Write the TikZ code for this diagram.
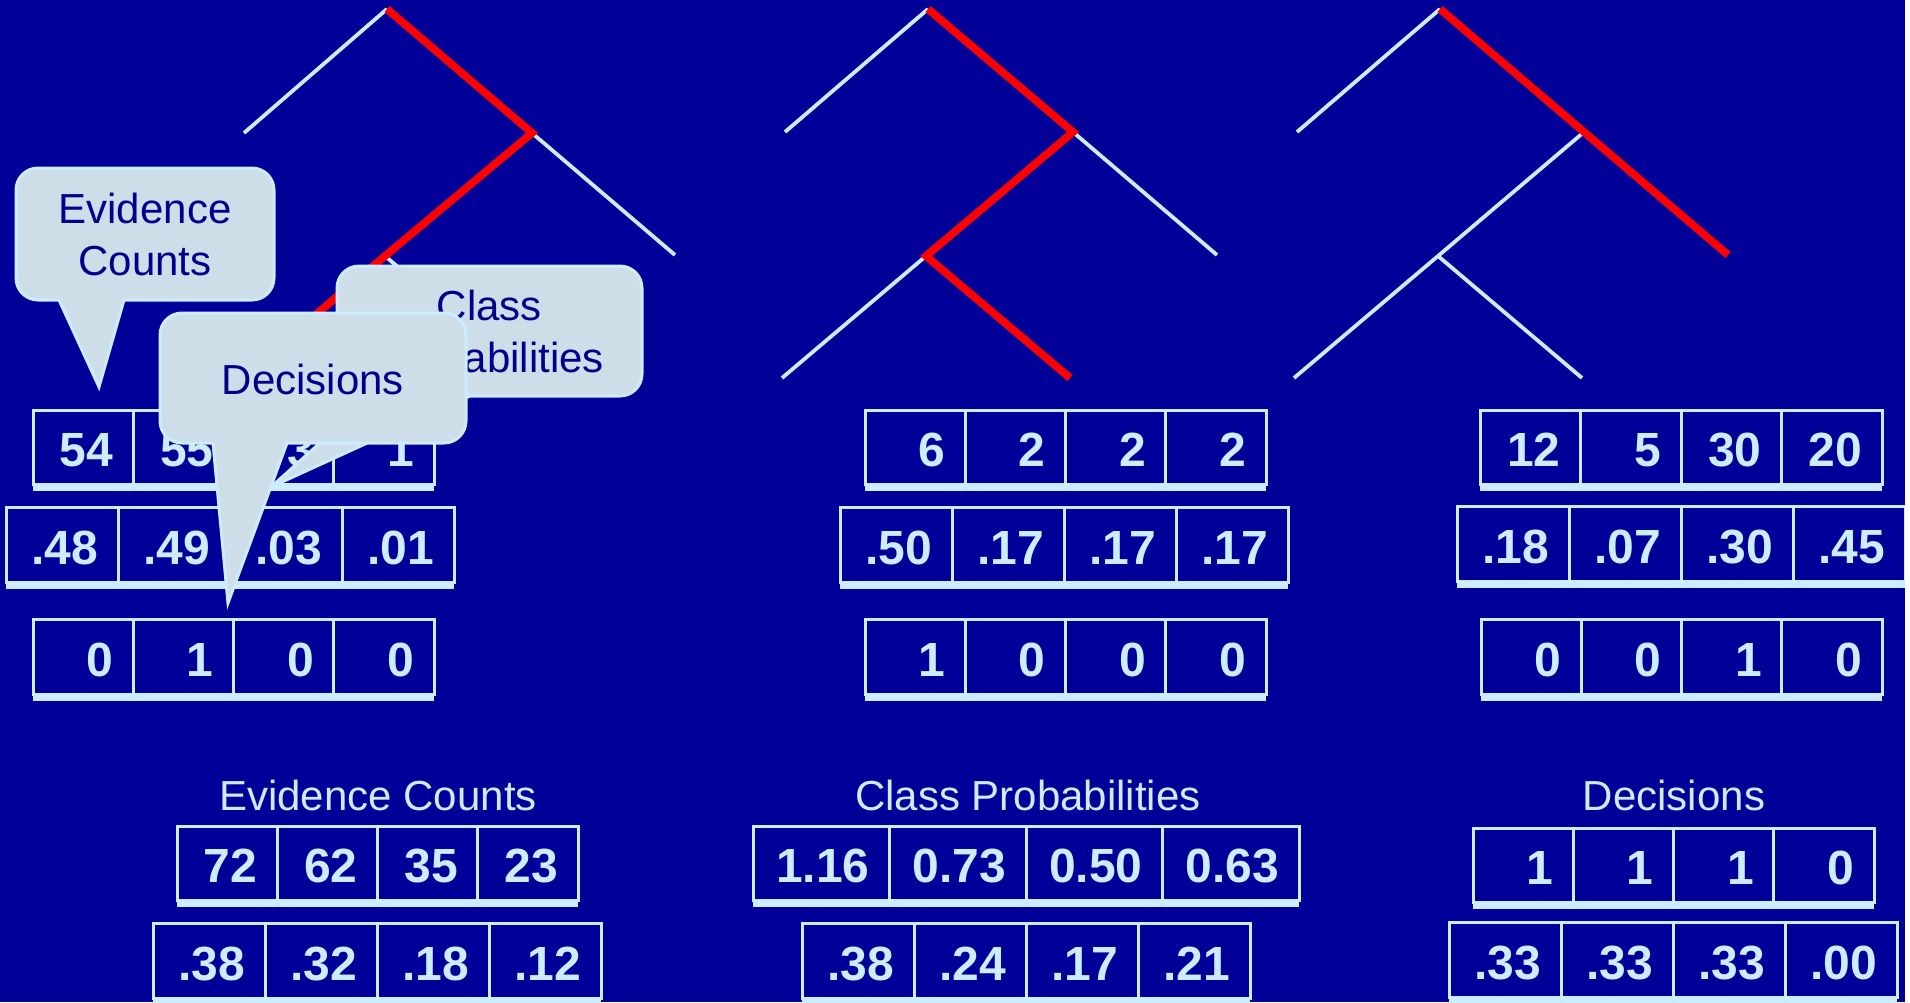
\documentclass[tikz,border=0pt]{standalone}
\usepackage{fontspec}
\setmainfont{Liberation Sans}
\definecolor{bg}{RGB}{0,0,153}
\definecolor{lite}{RGB}{204,236,255}
\definecolor{cfill}{RGB}{206,222,232}
\definecolor{ctext}{RGB}{0,0,140}
\definecolor{pathred}{RGB}{255,0,0}
\tikzset{
  branch/.style={draw=lite, line width=1.9pt},
  hot/.style={draw=pathred, line width=3.9pt},
  cellbox/.style={draw=lite, line width=1.5pt, fill=bg, text=lite, inner xsep=10pt, inner ysep=0pt,
    outer sep=0pt, align=right, anchor=north west, font=\fontsize{24}{28}\selectfont\bfseries},
  callout/.style={draw=lite, line width=1.5pt, fill=cfill},
  calltext/.style={text=ctext, align=center, font=\fontsize{21}{26}\selectfont, inner sep=0pt},
  titletext/.style={text=lite, font=\fontsize{21}{26}\selectfont, inner sep=0pt, anchor=base},
}
% #1 name, #2 x0, #3 y0, #4 cell width, #5 cell height, #6 values
\newcommand\cellrow[6]{%
  \pgfmathsetmacro\cellW{#4/2-20}%
  \pgfmathsetmacro\cellH{#5/2}%
  \foreach \v [count=\i] in {#6} {%
    \node[cellbox, text width=\cellW pt, minimum height=\cellH pt] (#1-\i) at ({#2+(\i-1)*#4},#3)
      {\raisebox{-1.5pt}[\height][0pt]{\v}};
  }%
  \fill[lite] (#2,{#3+#5}) rectangle ({#2+4*#4},{#3+#5+7});
}
% #1 L, #2 T, #3 R, #4 B, #5 base left, #6 base right, #7 tip coordinate
\newcommand\callshape[7]{%
  \path[callout] (#7) -- (#5,#4) -- ({#1+22},#4) arc[start angle=90,end angle=180,radius=22]
    -- (#1,{#2+22}) arc[start angle=180,end angle=270,radius=22]
    -- ({#3-22},#2) arc[start angle=270,end angle=360,radius=22]
    -- (#3,{#4-22}) arc[start angle=0,end angle=90,radius=22]
    -- (#6,#4) -- cycle;
}
\begin{document}
\begin{tikzpicture}[x=0.5pt,y=-0.5pt]
\useasboundingbox (0,0) rectangle (1910,1002);
\clip (0,0) rectangle (1910,1002);
\fill[bg] (0,0) rectangle (1910,1002);

% ---------- tree 1 ----------
\coordinate (t1r) at (387,9);
\coordinate (t1l) at (244,133);
\coordinate (t1a) at (532,133);
\coordinate (t1ra) at (675,255);
\coordinate (t1b) at (385,256);
\coordinate (t1bl) at (241,378);
\coordinate (t1br) at (529,378);
\draw[branch] (t1r) -- (t1l);
\draw[branch] (t1a) -- (t1ra);
\draw[branch] (t1b) -- (t1br);
\draw[hot] (t1r) -- (t1a) -- (t1b) -- (t1bl);

% ---------- tree 2 ----------
\coordinate (t2r) at (928,9);
\coordinate (t2l) at (785,132);
\coordinate (t2a) at (1073,132);
\coordinate (t2ra) at (1217,255);
\coordinate (t2b) at (926,256);
\coordinate (t2bl) at (782,378);
\coordinate (t2br) at (1070,378);
\draw[branch] (t2r) -- (t2l);
\draw[branch] (t2a) -- (t2ra);
\draw[branch] (t2b) -- (t2bl);
\draw[hot] (t2r) -- (t2a) -- (t2b) -- (t2br);

% ---------- tree 3 ----------
\coordinate (t3r) at (1440,9);
\coordinate (t3l) at (1297,132);
\coordinate (t3a) at (1584,132);
\coordinate (t3ra) at (1728,255);
\coordinate (t3b) at (1438,256);
\coordinate (t3bl) at (1294,378);
\coordinate (t3br) at (1582,378);
\draw[branch] (t3r) -- (t3l);
\draw[branch] (t3a) -- (t3b);
\draw[branch] (t3b) -- (t3bl);
\draw[branch] (t3b) -- (t3br);
\draw[hot] (t3r) -- (t3a) -- (t3ra);

% ---------- tables under the trees ----------
\cellrow{ta}{33}{410}{100.25}{74}{54,55,3,1}
\cellrow{tb}{6}{507}{112}{75}{.48,.49,.03,.01}
\cellrow{tc}{33}{619}{100.25}{75}{0,1,0,0}
\cellrow{ua}{865}{410}{100.25}{74}{6,2,2,2}
\cellrow{ub}{840}{507}{112}{75}{.50,.17,.17,.17}
\cellrow{uc}{865}{619}{100.25}{75}{1,0,0,0}
\cellrow{va}{1480}{410}{100.5}{74}{12,5,30,20}
\cellrow{vb}{1457}{506}{112}{75}{.18,.07,.30,.45}
\cellrow{vc}{1481}{619}{100.25}{75}{0,0,1,0}

% ---------- summary tables ----------
\node[titletext] (evTitle) at (378,810) {Evidence Counts};
\node[titletext] (cpTitle) at (1028,810) {Class Probabilities};
\node[titletext] (deTitle) at (1674,810) {Decisions};
\cellrow{ea}{177}{826}{100.25}{74}{72,62,35,23}
\cellrow{eb}{153}{923}{112}{75}{.38,.32,.18,.12}
\cellrow{pa}{753}{826}{136.5}{74}{1.16,0.73,0.50,0.63}
\cellrow{pb}{802}{923}{112}{75}{.38,.24,.17,.21}
\cellrow{da}{1473}{828}{100.25}{74}{1,1,1,0}
\cellrow{db}{1449}{922}{112}{75}{.33,.33,.33,.00}

% ---------- callouts ----------
\coordinate (cpTip) at (271,487);
\callshape{337}{266}{642}{396}{372}{470}{cpTip}
\node[calltext] (cpText) at (489.5,331) {Class\\Probabilities};

\coordinate (deTip) at (228,603);
\callshape{160}{313}{466}{443}{213}{287}{deTip}
\node[calltext] (deText) at (313,379) {Decisions};

\coordinate (ecTip) at (99,387);
\callshape{16}{168}{274}{300}{59}{124}{ecTip}
\node[calltext] (ecText) at (145,234) {Evidence\\Counts};

\fill[white] (1905,0) rectangle (1910,1002);
\end{tikzpicture}
\end{document}
